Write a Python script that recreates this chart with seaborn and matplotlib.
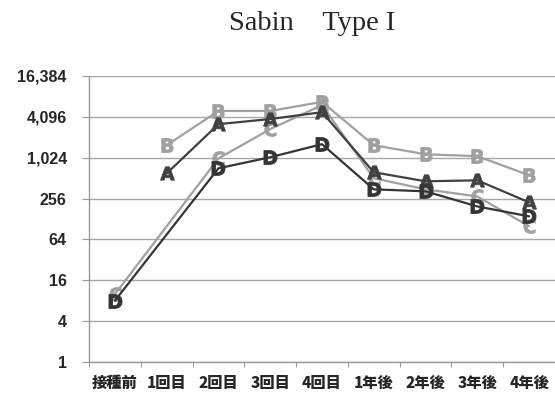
import numpy as np
import pandas as pd
import matplotlib
matplotlib.use("Agg")
import matplotlib.pyplot as plt
import seaborn as sns

categories = ["接種前", "1回目", "2回目", "3回目", "4回目", "1年後", "2年後", "3年後", "4年後"]
series_a = [np.nan, 600, 3200, 3800, 4800, 625, 460, 475, 225]
series_b = [np.nan, 1565, 5000, 5000, 6800, 1565, 1150, 1080, 565]
series_c = [10, np.nan, 1000, 2700, 6100, 510, 350, 275, 100]
series_d = [8, np.nan, 715, 1040, 1620, 350, 327, 196, 140]
y_ticks = [1, 4, 16, 64, 256, 1024, 4096, 16384]
y_tick_labels = ["1", "4", "16", "64", "256", "1,024", "4,096", "16,384"]

sns.set_style("white")
plt.rcParams["font.family"] = ["Liberation Sans", "Noto Sans CJK JP", "DejaVu Sans"]

fig = plt.figure(figsize=(5.55, 4.01), dpi=100)
ax = fig.add_axes([0.1604, 0.0973, 0.8396, 0.7132])

styles = {
    "A": (series_a, "#404040"),
    "B": (series_b, "#a0a0a0"),
    "C": (series_c, "#a0a0a0"),
    "D": (series_d, "#353535"),
}
for name in ["C", "B", "A", "D"]:
    vals, col = styles[name]
    df = pd.DataFrame({"x": np.arange(len(categories)), "y": vals}).dropna()
    sns.lineplot(data=df, x="x", y="y", ax=ax, color=col, lw=1.6,
                 marker=r"$\mathbf{%s}$" % name, markersize=10,
                 markeredgewidth=0.6, markeredgecolor=col, mfc=col,
                 clip_on=False)

ax.set_yscale("log", base=2)
ax.set_ylim(1, 16384)
ax.set_xlim(-0.5, len(categories) - 0.5)
ax.set_yticks(y_ticks)
ax.set_yticklabels(y_tick_labels, fontsize=11.5, fontweight="bold")
ax.yaxis.set_minor_locator(matplotlib.ticker.NullLocator())
ax.set_xticks(np.arange(len(categories) + 1) - 0.5)
ax.set_xticklabels([])
ax.set_xticks(np.arange(len(categories)), minor=True)
ax.set_xticklabels(categories, minor=True, fontsize=11, fontweight="heavy",
                   family=["Noto Sans CJK JP", "DejaVu Sans"])
ax.tick_params(axis="x", which="major", length=3.5, color="#999999", direction="out", bottom=True)
ax.tick_params(axis="x", which="minor", length=0, pad=10)
ax.tick_params(axis="y", length=5, color="#999999", direction="out", left=True, pad=11)
ax.grid(axis="y", color="#a8a8a8", lw=1)
ax.set_axisbelow(True)
for s in ["top", "right"]:
    ax.spines[s].set_visible(False)
for s in ["left", "bottom"]:
    ax.spines[s].set_color("#999999")
    ax.spines[s].set_linewidth(1)
ax.set_xlabel("")
ax.set_ylabel("")

fig.text(0.562, 0.925, "Sabin　Type I", ha="center", va="baseline", fontsize=20.5,
         family=["Liberation Serif", "Noto Sans CJK JP"])

fig.savefig("out.png", dpi=100)
